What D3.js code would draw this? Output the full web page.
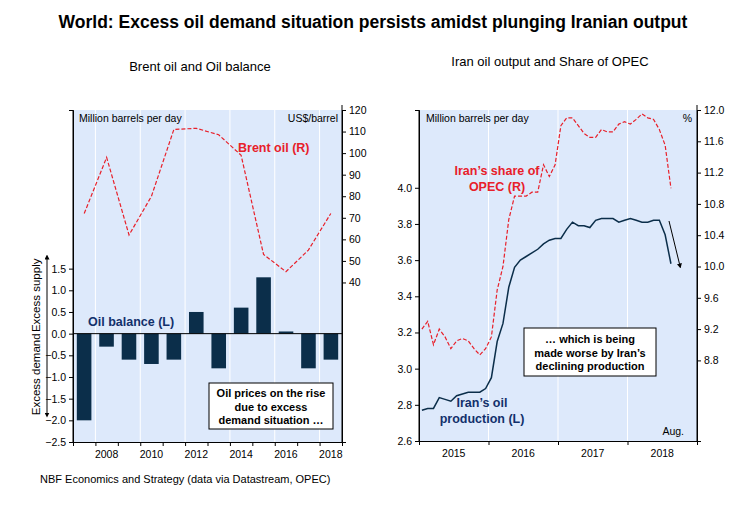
<!DOCTYPE html>
<html><head><meta charset="utf-8">
<script src="https://cdn.jsdelivr.net/npm/d3@7"></script>
<style>body{margin:0;background:#fff;font-family:Arial,"Liberation Sans",sans-serif}</style>
</head><body><svg id="c" width="746" height="507"></svg>
<script>
// left panel data
const years = [2007,2008,2009,2010,2011,2012,2013,2014,2015,2016,2017,2018];
const oilBalance = [-2.0,-0.3,-0.6,-0.7,-0.6,0.5,-0.8,0.6,1.3,0.05,-0.8,-0.6];
const brent = [72,98,62,80,111,111.5,108.5,99,53,45,55,72];
const leftTicks = [-2.5,-2.0,-1.5,-1.0,-0.5,0.0,0.5,1.0,1.5];
const brentTicks = [40,50,60,70,80,90,100,110,120];
// right panel data, monthly Jan 2015 - Aug 2018
const iranProd = [2.77,2.78,2.78,2.84,2.83,2.82,2.85,2.86,2.87,2.87,2.87,2.89,
  2.95,3.15,3.25,3.45,3.56,3.60,3.62,3.64,3.66,3.69,3.71,3.72,
  3.72,3.77,3.81,3.79,3.79,3.78,3.82,3.83,3.83,3.83,3.81,3.82,
  3.83,3.82,3.81,3.81,3.82,3.82,3.74,3.58];
const iranShare = [9.2,9.3,9.0,9.2,9.1,8.95,9.05,9.08,9.05,8.95,8.87,8.95,
  9.1,9.7,10.0,10.6,10.9,10.9,10.9,10.95,10.95,11.3,11.15,11.3,
  11.8,11.9,11.9,11.8,11.7,11.65,11.65,11.75,11.72,11.72,11.82,11.85,
  11.82,11.88,11.95,11.9,11.88,11.75,11.55,11.0];
const prodTicks = [2.6,2.8,3.0,3.2,3.4,3.6,3.8,4.0];
const shareTicks = [8.8,9.2,9.6,10.0,10.4,10.8,11.2,11.6,12.0];

const svg = d3.select("#c");
const BG = "#dde9fb", NAVY = "#0b2e4a", RED = "#e8202a";

svg.append("text").attr("x",373).attr("y",28).attr("text-anchor","middle")
  .attr("font-size",17.5).attr("font-weight","bold").text("World: Excess oil demand situation persists amidst plunging Iranian output");
svg.append("text").attr("x",200).attr("y",71).attr("text-anchor","middle").attr("font-size",13).text("Brent oil and Oil balance");
svg.append("text").attr("x",550).attr("y",66).attr("text-anchor","middle").attr("font-size",13).text("Iran oil output and Share of OPEC");
svg.append("text").attr("x",40).attr("y",483).attr("font-size",11).text("NBF Economics and Strategy (data via Datastream, OPEC)");

// ---- left panel
const L = {x0:73,x1:342,y0:110,y1:442};
const g1 = svg.append("g");
g1.append("rect").attr("x",L.x0).attr("y",L.y0).attr("width",L.x1-L.x0).attr("height",L.y1-L.y0).attr("fill",BG);
const xb = d3.scaleBand().domain(years).range([L.x0,L.x1]).paddingInner(0.35).paddingOuter(0.17);
const xStep = (L.x1-L.x0)/years.length;
const xc = d3.scaleLinear().domain([2006.5,2018.5]).range([L.x0,L.x1]);
const yl = d3.scaleLinear().domain([-2.5,5.16]).range([L.y1,L.y0]);
const yr = d3.scaleLinear().domain([-34,120]).range([L.y1,L.y0]);
[2008,2010,2012,2014,2016,2018].forEach(y=>{
  g1.append("line").attr("x1",xc(y-0.5)).attr("x2",xc(y-0.5)).attr("y1",L.y0).attr("y2",L.y1).attr("stroke","#fff");
});
g1.selectAll(".bar").data(years).join("rect")
  .attr("x",d=>xb(d)).attr("width",xb.bandwidth())
  .attr("y",(d,i)=>yl(Math.max(0,oilBalance[i])))
  .attr("height",(d,i)=>Math.abs(yl(oilBalance[i])-yl(0)))
  .attr("fill",NAVY);
g1.append("line").attr("x1",L.x0).attr("x2",L.x1).attr("y1",yl(0)).attr("y2",yl(0)).attr("stroke","#000");
g1.append("path").datum(brent)
  .attr("d",d3.line().x((d,i)=>xc(years[i])).y(d=>yr(d)))
  .attr("fill","none").attr("stroke",RED).attr("stroke-width",1.2).attr("stroke-dasharray","4,2");
const ax1 = g1.append("g").attr("transform",`translate(${L.x0},0)`)
  .call(d3.axisLeft(yl).tickValues(leftTicks).tickFormat(d3.format(".1f")).tickSize(4));
const ax2 = g1.append("g").attr("transform",`translate(${L.x1},0)`)
  .call(d3.axisRight(yr).tickValues(brentTicks).tickSize(4));
const ax3 = g1.append("g").attr("transform",`translate(0,${L.y1})`)
  .call(d3.axisBottom(xc).tickValues(d3.range(2006.5,2019,1)).tickFormat("").tickSize(4));
g1.selectAll(".yrlab").data([2008,2010,2012,2014,2016,2018]).join("text")
  .attr("x",d=>xc(d)).attr("y",L.y1+16).attr("text-anchor","middle").attr("font-size",10.5).text(d=>d);
g1.append("line").attr("x1",L.x0).attr("x2",L.x0).attr("y1",L.y0).attr("y2",L.y1).attr("stroke","#000");
g1.append("line").attr("x1",L.x1).attr("x2",L.x1).attr("y1",L.y0-5).attr("y2",L.y1).attr("stroke","#000");
g1.append("text").attr("x",L.x0+6).attr("y",L.y0+12).attr("font-size",10.5).text("Million barrels per day");
g1.append("text").attr("x",L.x1-4).attr("y",L.y0+12).attr("text-anchor","end").attr("font-size",10.5).text("US$/barrel");
g1.append("text").attr("x",238).attr("y",152).attr("fill",RED).attr("font-weight","bold").attr("font-size",12.5).text("Brent oil (R)");
g1.append("text").attr("x",88).attr("y",326).attr("fill","#12306b").attr("font-weight","bold").attr("font-size",12.5).text("Oil balance (L)");
g1.append("rect").attr("x",209).attr("y",383).attr("width",124).attr("height",46).attr("fill","#fff").attr("stroke","#000");
["Oil prices on the rise","due to excess","demand situation …"].forEach((t,i)=>
  g1.append("text").attr("x",271).attr("y",397+i*13.5).attr("text-anchor","middle").attr("font-weight","bold").attr("font-size",11).text(t));
// excess supply/demand side labels
const defs = svg.append("defs");
defs.append("marker").attr("id","ah").attr("viewBox","0 0 10 10").attr("refX",5).attr("refY",5)
  .attr("markerWidth",5).attr("markerHeight",5).attr("orient","auto-start-reverse")
  .append("path").attr("d","M0,0L10,5L0,10z").attr("fill","#000");
g1.append("line").attr("x1",47).attr("x2",47).attr("y1",257).attr("y2",415).attr("stroke","#000")
  .attr("marker-start","url(#ah)").attr("marker-end","url(#ah)");
g1.append("text").attr("transform",`translate(40,${(257+yl(0))/2}) rotate(-90)`).attr("text-anchor","middle")
  .attr("font-size",11.5).attr("fill","#000").attr("stroke","#fff").attr("stroke-width",3).attr("paint-order","stroke").text("Excess supply");
g1.append("text").attr("transform",`translate(40,${(415+yl(0))/2}) rotate(-90)`).attr("text-anchor","middle")
  .attr("font-size",11.5).attr("fill","#000").attr("stroke","#fff").attr("stroke-width",3).attr("paint-order","stroke").text("Excess demand");

// ---- right panel
const R = {x0:419,x1:697,y0:110,y1:441};
const g2 = svg.append("g");
g2.append("rect").attr("x",R.x0).attr("y",R.y0).attr("width",R.x1-R.x0).attr("height",R.y1-R.y0).attr("fill",BG);
const xt = d3.scaleLinear().domain([2015,2019]).range([R.x0,R.x1]);
const ypl = d3.scaleLinear().domain([2.6,4.43]).range([R.y1,R.y0]);
const ysr = d3.scaleLinear().domain([7.77,12.0]).range([R.y1,R.y0]);
[2016,2017,2018].forEach(y=>g2.append("line").attr("x1",xt(y)).attr("x2",xt(y)).attr("y1",R.y0).attr("y2",R.y1).attr("stroke","#fff"));
const tm = i => 2015 + (i+0.5)/12;
g2.append("path").datum(iranShare).attr("d",d3.line().x((d,i)=>xt(tm(i))).y(d=>ysr(d)))
  .attr("fill","none").attr("stroke",RED).attr("stroke-width",1.2).attr("stroke-dasharray","4,2");
g2.append("path").datum(iranProd).attr("d",d3.line().x((d,i)=>xt(tm(i))).y(d=>ypl(d)))
  .attr("fill","none").attr("stroke",NAVY).attr("stroke-width",1.5);
g2.append("g").attr("transform",`translate(${R.x0},0)`)
  .call(d3.axisLeft(ypl).tickValues(prodTicks).tickFormat(d3.format(".1f")).tickSize(4));
g2.append("g").attr("transform",`translate(${R.x1},0)`)
  .call(d3.axisRight(ysr).tickValues(shareTicks).tickFormat(d3.format(".1f")).tickSize(4));
g2.append("g").attr("transform",`translate(0,${R.y1})`)
  .call(d3.axisBottom(xt).tickValues([2015,2016,2017,2018,2019]).tickFormat("").tickSize(4));
g2.selectAll(".yl").data([2015,2016,2017,2018]).join("text")
  .attr("x",d=>xt(d+0.5)).attr("y",R.y1+16).attr("text-anchor","middle").attr("font-size",10.5).text(d=>d);
g2.append("line").attr("x1",R.x1).attr("x2",R.x1).attr("y1",R.y0-5).attr("y2",R.y1).attr("stroke","#000");
g2.append("line").attr("x1",R.x0).attr("x2",R.x0).attr("y1",R.y0).attr("y2",R.y1).attr("stroke","#000");
g2.append("text").attr("x",R.x0+7).attr("y",R.y0+12).attr("font-size",10.5).text("Million barrels per day");
g2.append("text").attr("x",R.x1-5).attr("y",R.y0+12).attr("text-anchor","end").attr("font-size",10.5).text("%");
g2.append("text").attr("x",R.x1-13).attr("y",R.y1-6).attr("text-anchor","end").attr("font-size",10.5).text("Aug.");
[["Iran’s share of",175],["OPEC (R)",191]].forEach(([t,y])=>
  g2.append("text").attr("x",497).attr("y",y).attr("text-anchor","middle").attr("fill",RED).attr("font-weight","bold").attr("font-size",12.5).text(t));
[["Iran’s oil",407],["production (L)",423]].forEach(([t,y])=>
  g2.append("text").attr("x",482).attr("y",y).attr("text-anchor","middle").attr("fill","#12306b").attr("font-weight","bold").attr("font-size",12.5).text(t));
g2.append("rect").attr("x",524).attr("y",328).attr("width",132).attr("height",48).attr("fill","#fff").attr("stroke","#000");
["… which is being","made worse by Iran’s","declining production"].forEach((t,i)=>
  g2.append("text").attr("x",590).attr("y",343+i*13.5).attr("text-anchor","middle").attr("font-weight","bold").attr("font-size",11).text(t));
g2.append("line").attr("x1",669).attr("y1",221).attr("x2",680).attr("y2",266).attr("stroke","#000")
  .attr("marker-end","url(#ah)");

svg.selectAll(".tick text").attr("font-size",10.5).attr("font-family","Arial,'Liberation Sans',sans-serif").attr("fill","#000");
svg.selectAll(".domain").attr("stroke","#000");
</script></body></html>
